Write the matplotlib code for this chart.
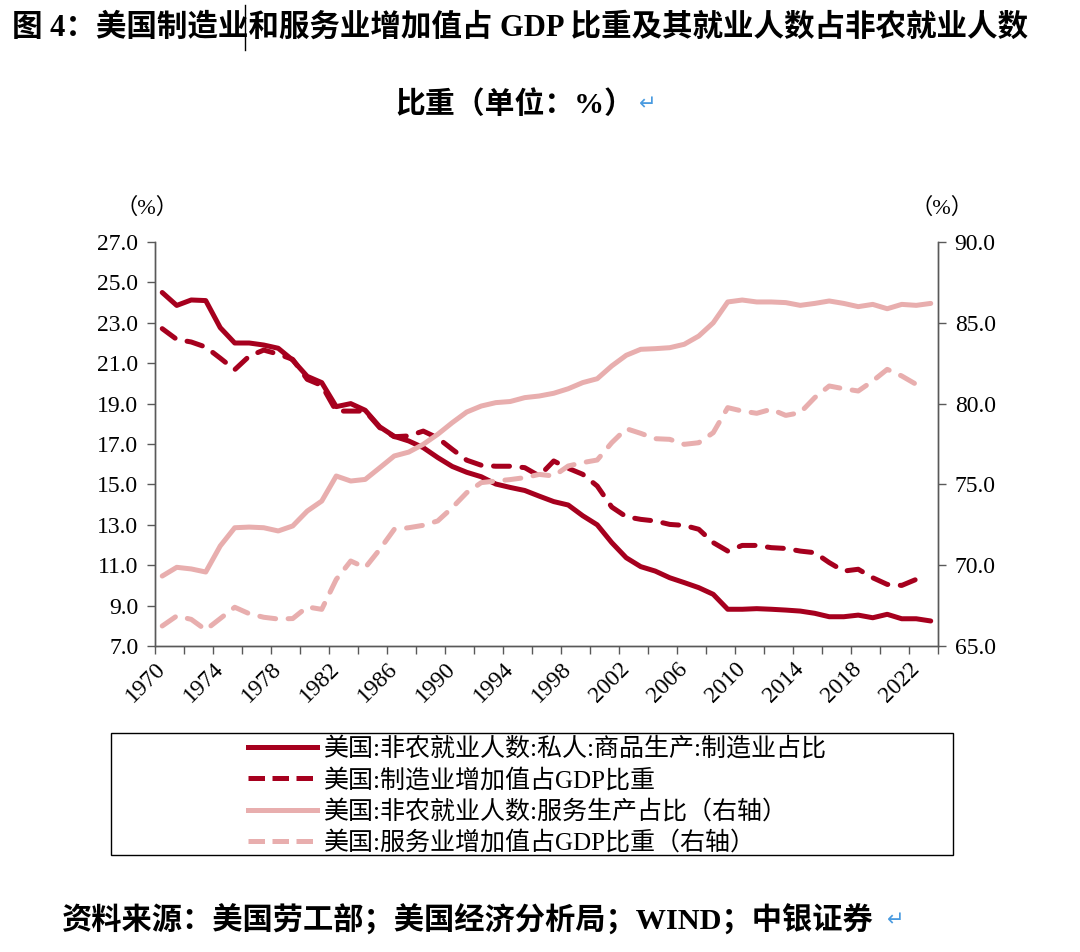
import numpy as np
import matplotlib
matplotlib.use("Agg")
import matplotlib.pyplot as plt
from matplotlib.lines import Line2D
from matplotlib.patches import Rectangle

# 年份（类别轴）
years = list(range(1970, 2024))

# 美国:非农就业人数:私人:商品生产:制造业占比 (左轴)
mfg_emp = [24.50, 23.86, 24.13, 24.10, 22.76, 22.00, 22.00, 21.90, 21.74, 21.15,
           20.35, 20.04, 18.85, 19.00, 18.67, 17.85, 17.38, 17.15, 16.82, 16.33,
           15.89, 15.60, 15.38, 15.02, 14.85, 14.70, 14.42, 14.15, 13.98, 13.45,
           13.00, 12.12, 11.37, 10.93, 10.71, 10.38, 10.14, 9.89, 9.56, 8.82,
           8.82, 8.85, 8.82, 8.78, 8.73, 8.62, 8.45, 8.45, 8.53, 8.40,
           8.57, 8.35, 8.35, 8.24]

# 美国:制造业增加值占GDP比重 (左轴)
mfg_va = [22.71, 22.18, 22.05, 21.80, 21.25, 20.68, 21.35, 21.65, 21.45, 21.19,
          20.20, 19.90, 18.63, 18.63, 18.63, 17.81, 17.36, 17.40, 17.64, 17.30,
          16.74, 16.20, 15.95, 15.90, 15.90, 15.83, 15.42, 16.16, 15.80, 15.50,
          14.92, 13.88, 13.40, 13.27, 13.19, 13.02, 12.97, 12.78, 12.12, 11.70,
          11.98, 11.98, 11.87, 11.83, 11.70, 11.62, 11.13, 10.71, 10.80, 10.38,
          10.05, 10.00, 10.30]

# 美国:非农就业人数:服务生产占比 (右轴)
svc_emp = [69.33, 69.87, 69.77, 69.58, 71.19, 72.32, 72.36, 72.32, 72.12, 72.43,
           73.35, 73.97, 75.52, 75.21, 75.31, 76.03, 76.76, 77.00, 77.48, 78.10,
           78.82, 79.48, 79.85, 80.06, 80.13, 80.37, 80.47, 80.64, 80.92, 81.30,
           81.54, 82.33, 82.99, 83.36, 83.40, 83.46, 83.67, 84.18, 85.00, 86.29,
           86.41, 86.29, 86.29, 86.25, 86.08, 86.20, 86.35, 86.20, 86.00, 86.14,
           85.87, 86.14, 86.08, 86.20]

# 美国:服务业增加值占GDP比重 (右轴)
svc_va = [66.24, 66.86, 66.65, 66.00, 66.70, 67.40, 67.00, 66.78, 66.67, 66.70,
          67.42, 67.27, 69.12, 70.26, 69.85, 70.98, 72.22, 72.32, 72.47, 72.74,
          73.56, 74.49, 75.11, 75.21, 75.30, 75.42, 75.62, 75.52, 76.14, 76.35,
          76.51, 77.58, 78.45, 78.16, 77.83, 77.79, 77.48, 77.58, 78.20, 79.75,
          79.54, 79.40, 79.65, 79.27, 79.44, 80.37, 81.09, 80.92, 80.78, 81.40,
          82.12, 81.71, 81.19]

labels = ["美国:非农就业人数:私人:商品生产:制造业占比",
          "美国:制造业增加值占GDP比重",
          "美国:非农就业人数:服务生产占比（右轴）",
          "美国:服务业增加值占GDP比重（右轴）"]

label_years = list(range(1970, 2023, 4))

DARK = "#A6001E"
LIGHT = "#E8AEAE"
AXC = "#595959"
MIX = ["Liberation Serif", "Noto Sans CJK SC"]

plt.rcParams["font.family"] = MIX

fig = plt.figure(figsize=(10.8, 9.52), dpi=100)
ax = fig.add_axes([0.1435, 0.3214, 0.725, 0.4244])
ax2 = ax.twinx()

lw = 3.6
dash = (3.2, 2.5)
ax.plot(years, mfg_emp, color=DARK, lw=lw, solid_capstyle="round", solid_joinstyle="round")
ax.plot(years[:len(mfg_va)], mfg_va, color=DARK, lw=lw, dashes=dash,
        dash_capstyle="round", dash_joinstyle="round")
ax2.plot(years, svc_emp, color=LIGHT, lw=lw, solid_capstyle="round", solid_joinstyle="round")
ax2.plot(years[:len(svc_va)], svc_va, color=LIGHT, lw=lw, dashes=dash,
         dash_capstyle="round", dash_joinstyle="round")

ax.set_xlim(1969.5, 2023.5)
ax.set_ylim(7, 27)
ax2.set_ylim(65, 90)
ax.set_yticks(np.arange(7, 27.1, 2))
ax.set_yticklabels([f"{v:.1f}" for v in np.arange(7, 27.1, 2)])
ax2.set_yticks(np.arange(65, 90.1, 5))
ax2.set_yticklabels([f"{v:.1f}" for v in np.arange(65, 90.1, 5)])

ax.set_xticks(np.arange(1969.5, 2024, 2))
ax.set_xticklabels([])
ax.set_xticks(label_years, minor=True)
ax.set_xticklabels([str(y) for y in label_years], minor=True, rotation=45,
                   ha="right", va="center", rotation_mode="anchor")
ax.tick_params(axis="x", which="major", length=6, width=1, color=AXC, direction="out")
ax.tick_params(axis="x", which="minor", length=0, pad=14, labelsize=17)
ax.tick_params(axis="y", length=6, width=1, color=AXC, labelsize=17, pad=6)
ax2.tick_params(axis="y", length=6, width=1, color=AXC, labelsize=17, pad=6)

for a in (ax, ax2):
    a.spines["top"].set_visible(False)
    for s in ("left", "right", "bottom"):
        a.spines[s].set_color(AXC)
        a.spines[s].set_linewidth(1)

fig.text(0.136, 0.7815, "（%）", fontsize=16, ha="center", va="center")
fig.text(0.872, 0.7815, "（%）", fontsize=16, ha="center", va="center")

# 图例
handles = [Line2D([], [], color=DARK, lw=lw),
           Line2D([], [], color=DARK, lw=lw, dashes=(3.3, 1.5)),
           Line2D([], [], color=LIGHT, lw=lw),
           Line2D([], [], color=LIGHT, lw=lw, dashes=(3.3, 1.5))]
fig.legend(handles, labels, loc="center", bbox_to_anchor=(0.498, 0.164),
           frameon=False, fontsize=18, handlelength=2.75, handletextpad=0.3,
           labelspacing=0.3, borderpad=0)
fig.add_artist(Rectangle((111 / 1080, 1 - 855 / 952), 842 / 1080, 122 / 952,
                         transform=fig.transFigure, fill=False, ec="black", lw=1))

# 标题
fig.text(0.011, 0.9706, "图 4：美国制造业和服务业增加值占 GDP 比重及其就业人数占非农就业人数",
         fontsize=22, fontweight="bold", ha="left", va="center")
fig.add_artist(Line2D([245 / 1080, 245 / 1080], [1 - 50 / 952, 1 - 5 / 952],
                      transform=fig.transFigure, color="black", lw=1))
fig.text(0.477, 0.890, "比重（单位：%）", fontsize=21.5, fontweight="bold",
         ha="center", va="center")
fig.text(0.600, 0.890, "↵", fontsize=15, color="#4A9BE0", family="DejaVu Sans",
         ha="center", va="center")

fig.text(0.057, 0.0336, "资料来源：美国劳工部；美国经济分析局；WIND；中银证券",
         fontsize=21.8, fontweight="bold", ha="left", va="center")
fig.text(0.829, 0.0336, "↵", fontsize=15, color="#4A9BE0", family="DejaVu Sans",
         ha="center", va="center")

fig.savefig("out.png", dpi=100)
